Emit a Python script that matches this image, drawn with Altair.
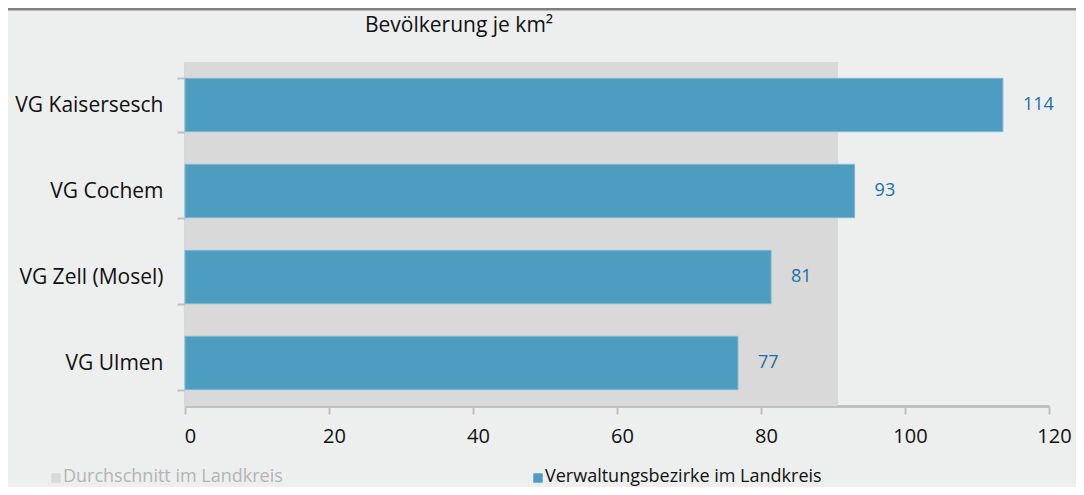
import altair as alt
import pandas as pd

categories = ["VG Kaisersesch", "VG Cochem", "VG Zell (Mosel)", "VG Ulmen"]
values = [113.6, 93.0, 81.4, 76.8]
labels = ["114", "93", "81", "77"]
average = [90.7]
legend_names = ["Durchschnitt im Landkreis", "Verwaltungsbezirke im Landkreis"]
x_ticks = [0, 20, 40, 60, 80, 100, 120]
title_text = "Bevölkerung je km²"

W, H = 864, 344
FONT = "Open Sans"
BG = "#edeeee"
BAR = "#4d9dc0"
AVG = "#d9d9d9"

df = pd.DataFrame({"cat": categories, "val": values, "lab": labels})
avg_df = pd.DataFrame({"start": [0], "avg": average})

xscale = alt.Scale(domain=[0, 120], nice=False, zero=True)
yscale = alt.Scale(domain=categories, paddingInner=0.38, paddingOuter=0.19)

avg_rect = alt.Chart(avg_df).mark_rect(color=AVG).encode(
    x=alt.X("start:Q", scale=xscale,
            axis=alt.Axis(values=x_ticks, title=None, grid=False, domainColor="#c0c0c0",
                          domainWidth=3, tickColor="#c0c0c0", tickWidth=2, tickSize=8,
                          labelFontSize=20, labelFont=FONT, labelColor="#111111",
                          labelPadding=12, labelFlush=False, labelOffset=5)),
    x2="avg:Q",
    y=alt.value(0),
    y2=alt.value(H),
)

bars = alt.Chart(df).mark_bar(color=BAR, stroke="#7fb8d3", strokeWidth=1).encode(
    x=alt.X("val:Q", scale=xscale),
    y=alt.Y("cat:N", scale=yscale, sort=categories,
            axis=alt.Axis(title=None, tickBand="extent", domainColor="#c0c0c0",
                          domainWidth=2, tickColor="#c0c0c0", tickWidth=2, tickSize=8,
                          labelFontSize=21, labelFont=FONT, labelColor="#111111",
                          labelPadding=14)),
)

texts = alt.Chart(df).mark_text(align="left", baseline="middle", dx=20, fontSize=18,
                                font=FONT, color="#1a70a8").encode(
    x=alt.X("val:Q", scale=xscale),
    y=alt.Y("cat:N", scale=yscale, sort=categories),
    text="lab:N",
)

title = alt.Chart(pd.DataFrame({"t": [title_text]})).mark_text(
    align="left", baseline="middle", fontSize=21, font=FONT, color="#111111"
).encode(x=alt.value(180), y=alt.value(-36), text="t:N")

top_line = alt.Chart(pd.DataFrame({"a": [0]})).mark_rule(color="#808080", strokeWidth=3).encode(
    x=alt.value(-177), x2=alt.value(W + 27), y=alt.value(-53)
)

leg_df = pd.DataFrame({
    "name": legend_names,
    "sx": [-129, 353],
    "tx": [-122, 360],
    "col": [AVG, BAR],
    "tcol": ["#b4b4b4", "#111111"],
})
leg_sq = alt.Chart(leg_df).mark_square(size=90, opacity=1).encode(
    x=alt.X("sx:Q", scale=None), y=alt.value(416),
    color=alt.Color("col:N", scale=None),
)
leg_tx = alt.Chart(leg_df).mark_text(align="left", baseline="middle", fontSize=18, font=FONT).encode(
    x=alt.X("tx:Q", scale=None), y=alt.value(415), text="name:N",
    color=alt.Color("tcol:N", scale=None),
)

chart = alt.layer(avg_rect, bars, texts, title, top_line, leg_sq, leg_tx).properties(
    width=W, height=H,
    background=BG,
    padding={"left": 177, "top": 54, "right": 27, "bottom": 81},
    autosize=alt.AutoSizeParams(type="none"),
).configure_view(stroke=None)

chart.save("out.html", embed_options={"renderer": "svg", "actions": False})
